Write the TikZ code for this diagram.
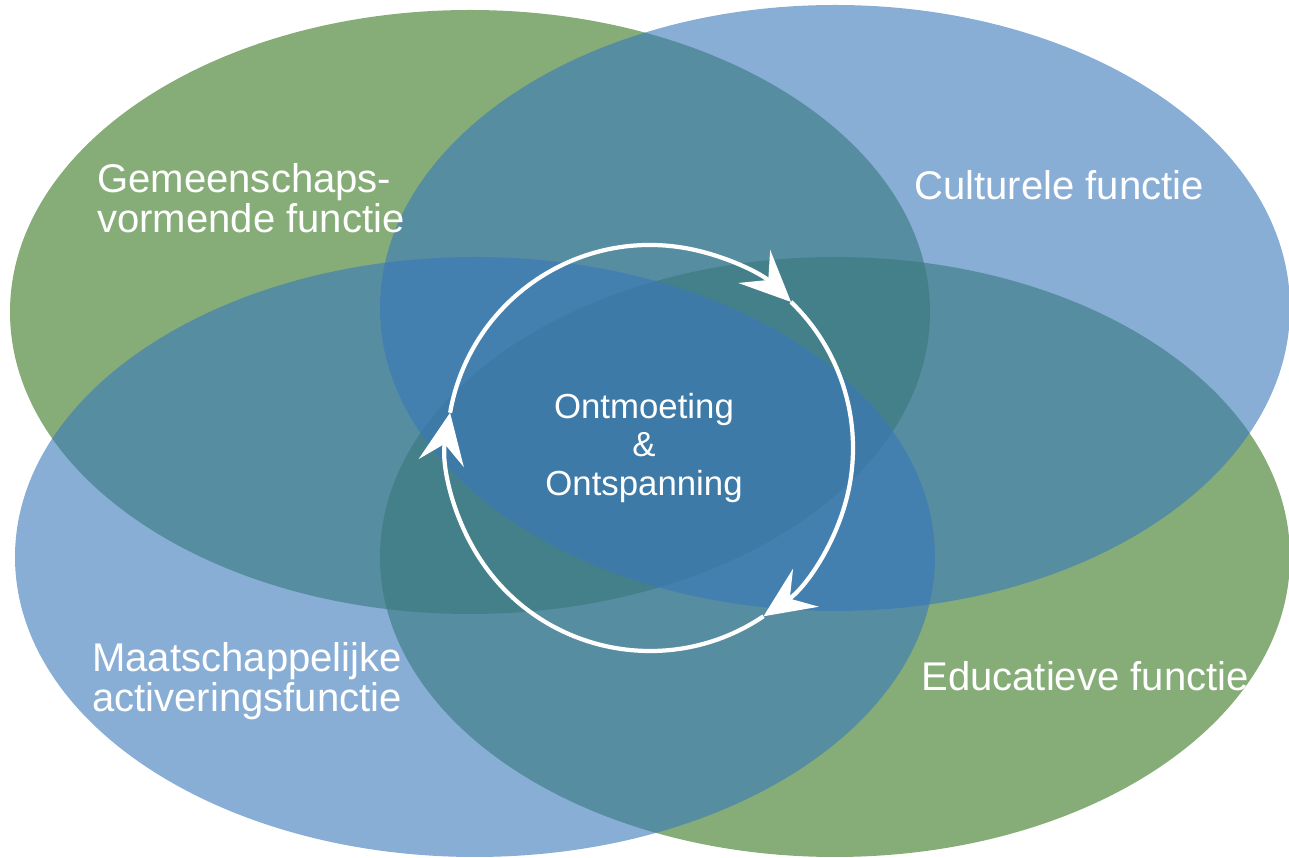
\documentclass[tikz,border=0pt]{standalone}
\usepackage{fontspec}
\setmainfont{Liberation Sans}
\usepackage{tikz}
\usetikzlibrary{arrows.meta, positioning, calc}
\definecolor{vgreen}{RGB}{53,118,30}
\definecolor{vblue}{RGB}{57,120,187}
\tikzstyle{blob}=[fill opacity=0.6]
\tikzstyle{lbl}=[text=white, inner sep=0pt, align=left, font=\fontsize{22.8}{22.8}\selectfont]
\tikzstyle{ctr}=[text=white, inner sep=0pt, align=center, font=\fontsize{19.8}{22}\selectfont]
\tikzstyle{ring}=[white, line width=2.4pt]
\tikzset{>={Stealth[length=29pt, width=26pt, inset=11pt]}}

\begin{document}
\begin{tikzpicture}[x=0.02cm, y=0.02cm]
\useasboundingbox (0,0) rectangle (1289,858);

\fill[vgreen, blob] (470,546) ellipse [x radius=460, y radius=302];
\fill[vgreen, blob] (835,301) ellipse [x radius=455, y radius=300];
\fill[vblue, blob] (835,550) ellipse [x radius=455, y radius=303];
\fill[vblue, blob] (475,301) ellipse [x radius=460, y radius=300];

\node[lbl, anchor=west] (gem) at (97,660) {Gemeenschaps-\\vormende functie};
\node[lbl] (cult) at (1059,673) {Culturele functie};
\node[lbl, anchor=west] (maat) at (92,177) {Maatschappelijke\\activeringsfunctie};
\node[lbl] (edu) at (1085,182) {Educatieve functie};
\node[ctr] (mid) at (644,410) {Ontmoeting\\\&\\Ontspanning};

\coordinate (c0) at (650,410);
\coordinate (p1) at ($(c0)+(170:203)$);
\coordinate (p2) at ($(c0)+(46:203)$);
\coordinate (p3) at ($(c0)+(-56:203)$);
\draw[ring, ->] (p1) arc [start angle=170, end angle=46, radius=203];
\draw[ring, ->] (p2) arc [start angle=46, end angle=-56, radius=203];
\draw[ring, ->] (p3) arc [start angle=-56, end angle=-190, radius=203];
\end{tikzpicture}
\end{document}
